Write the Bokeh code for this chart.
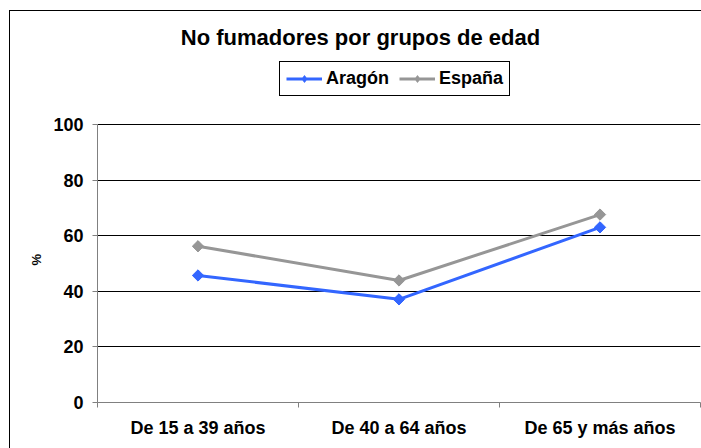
import math
from bokeh.plotting import figure
from bokeh.models import (Range1d, FixedTicker, Legend, LegendItem, Label, Title, ColumnDataSource)
from bokeh.embed import file_html
from bokeh.resources import INLINE

categories = ["De 15 a 39 años", "De 40 a 64 años", "De 65 y más años"]
aragon = [45.7, 37.1, 63.0]
espana = [56.2, 43.9, 67.6]
y_ticks = [0, 20, 40, 60, 80, 100]

FONT = "Liberation Sans"
xs = [i + 0.5 for i in range(len(categories))]

# frame spans from screen y=12 to y=402 (390px); 100 units = 278px
y_top = 100 * 390 / 278
p = figure(width=701, height=448, output_backend="svg", toolbar_location=None,
           x_range=Range1d(0, len(categories)), y_range=Range1d(0, y_top),
           min_border_left=97, min_border_right=1, min_border_bottom=46, min_border_top=12)
p.title = None
p.background_fill_color = "white"
p.border_fill_color = None
p.outline_line_color = None
p.styles = {"background": "linear-gradient(#000,#000) 9px 10px / 1px 600px no-repeat, "
                          "linear-gradient(#000,#000) 9px 10px / 900px 1px no-repeat, #fff"}

title = Label(x=(360 - 97) / 201, y=(402 - 37) / 2.78, text="No fumadores por grupos de edad",
              text_align="center", text_baseline="middle",
              text_font=FONT, text_font_size="22px", text_font_style="bold", text_color="black")
p.add_layout(title)

ylabel = Title(text="%", align="left", offset=137, standoff=13,
               text_font=FONT, text_font_size="13px", text_font_style="bold", text_color="black")
p.add_layout(ylabel, "left")

src_a = ColumnDataSource(dict(x=xs, y=aragon))
src_e = ColumnDataSource(dict(x=xs, y=espana))
blue = "#3366FF"
gray = "#969696"
le = p.line("x", "y", source=src_e, line_color=gray, line_width=3)
de = p.scatter("x", "y", source=src_e, marker="diamond", size=10, fill_color=gray, line_color=gray)
me = p.scatter("x", "y", source=src_e, marker="square", size=8, angle=math.pi / 4,
               fill_color=gray, line_color=gray)
la = p.line("x", "y", source=src_a, line_color=blue, line_width=3)
da = p.scatter("x", "y", source=src_a, marker="diamond", size=10, fill_color=blue, line_color=blue)
ma = p.scatter("x", "y", source=src_a, marker="square", size=8, angle=math.pi / 4,
               fill_color=blue, line_color=blue)

legend = Legend(items=[LegendItem(label="Aragón", renderers=[la, da]),
                       LegendItem(label="España", renderers=[le, de])],
                orientation="horizontal", location=(182, 306),
                label_text_font=FONT, label_text_font_size="18px", label_text_font_style="bold",
                label_text_color="black", label_height=18,
                border_line_color="black", border_line_width=1, border_line_alpha=1,
                glyph_width=36, glyph_height=17, spacing=10, padding=6, margin=0,
                label_standoff=4, background_fill_alpha=1)
p.add_layout(legend)

# y axis
p.yaxis.ticker = FixedTicker(ticks=y_ticks)
p.yaxis.bounds = (0, 100)
p.yaxis.axis_line_color = "#808080"
p.yaxis.major_tick_line_color = "#808080"
p.yaxis.major_tick_out = 5
p.yaxis.major_tick_in = 0
p.yaxis.minor_tick_line_color = None
p.yaxis.major_label_text_font = FONT
p.yaxis.major_label_text_font_size = "18px"
p.yaxis.major_label_text_font_style = "bold"
p.yaxis.major_label_text_color = "black"
p.yaxis.major_label_standoff = 9

# x axis
p.xaxis.ticker = FixedTicker(ticks=xs, minor_ticks=list(range(len(categories) + 1)))
p.xaxis.major_label_overrides = {x: c for x, c in zip(xs, categories)}
p.xaxis.axis_line_color = "#808080"
p.xaxis.major_tick_line_color = None
p.xaxis.minor_tick_line_color = "#808080"
p.xaxis.minor_tick_out = 5
p.xaxis.minor_tick_in = 0
p.xaxis.major_label_text_font = FONT
p.xaxis.major_label_text_font_size = "18px"
p.xaxis.major_label_text_font_style = "bold"
p.xaxis.major_label_text_color = "black"
p.xaxis.major_label_standoff = 9

p.xgrid.grid_line_color = None
p.ygrid.ticker = FixedTicker(ticks=y_ticks)
p.ygrid.grid_line_color = "black"
p.ygrid.grid_line_width = 1

open("out.html", "w").write(file_html(p, INLINE))
